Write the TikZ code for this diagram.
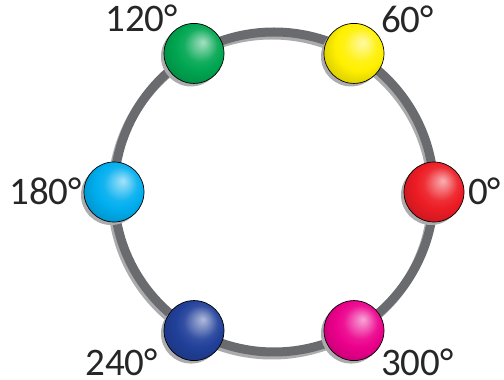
\documentclass[tikz,border=0pt]{standalone}
\usepackage{fontspec}
\setmainfont{Carlito}
\usetikzlibrary{shadows}
\usepackage{xcolor}
\definecolor{ringgrey}{RGB}{106,107,110}
\definecolor{ringshade}{RGB}{172,172,174}
\definecolor{balltone}{RGB}{0,0,0}
\definecolor{huered}{RGB}{237,28,36}
\definecolor{hueyellow}{RGB}{255,240,0}
\definecolor{huegreen}{RGB}{0,166,81}
\definecolor{huecyan}{RGB}{0,174,239}
\definecolor{hueblue}{RGB}{33,64,154}
\definecolor{huemagenta}{RGB}{236,0,140}

% glossy ball, highlight up and to the right
\pgfdeclareradialshading[balltone]{glossy}{\pgfpoint{7.5bp}{9.5bp}}{%
  color(0bp)=(balltone!35!white); color(5bp)=(balltone!55!white);
  color(14bp)=(balltone!92!white); color(20bp)=(balltone);
  color(30bp)=(balltone!86!black); color(50bp)=(balltone!86!black)}

\begin{document}
\begin{tikzpicture}[x=1pt, y=1pt, font=\fontsize{39}{42}\selectfont,
    ball/.style={circle, draw=black, line width=0.7pt,
                 minimum size=60pt, inner sep=0pt, shading=glossy,
                 drop shadow={shadow xshift=-3pt, shadow yshift=-3pt,
                              fill=ringshade, opacity=1}},
    tone/.code={\colorlet{balltone}{#1}},
    angletext/.style={inner sep=0pt, text=black!85},
]
\useasboundingbox (0,0) rectangle (504,380);

% ─── Ring ────────────────────────────────────────────────────────
\coordinate (hub) at (274,188);
\draw[ringshade, line width=9pt] ([shift={(-2,-3)}]hub) circle (160);
\draw[ringgrey, line width=9pt] (hub) circle (160);

% ─── Balls ───────────────────────────────────────────────────────
\foreach \ang/\hue/\nm in {0/huered/red, 60/hueyellow/yellow,
    120/huegreen/green, 180/huecyan/cyan, 240/hueblue/blue,
    300/huemagenta/magenta}
  \node[ball, tone=\hue] (\nm) at ([shift={(\ang:160)}]hub) {};

% ─── Angles ──────────────────────────────────────────────────────
\node[angletext, anchor=base west] (a0)   at (468,175) {0°};
\node[angletext, anchor=base west] (a60)  at (381,347) {60°};
\node[angletext, anchor=base east] (a120) at (178,348) {120°};
\node[angletext, anchor=base east] (a180) at (82,175)  {180°};
\node[angletext, anchor=base east] (a240) at (158,4)   {240°};
\node[angletext, anchor=base west] (a300) at (381,4)   {300°};

\end{tikzpicture}
\end{document}
